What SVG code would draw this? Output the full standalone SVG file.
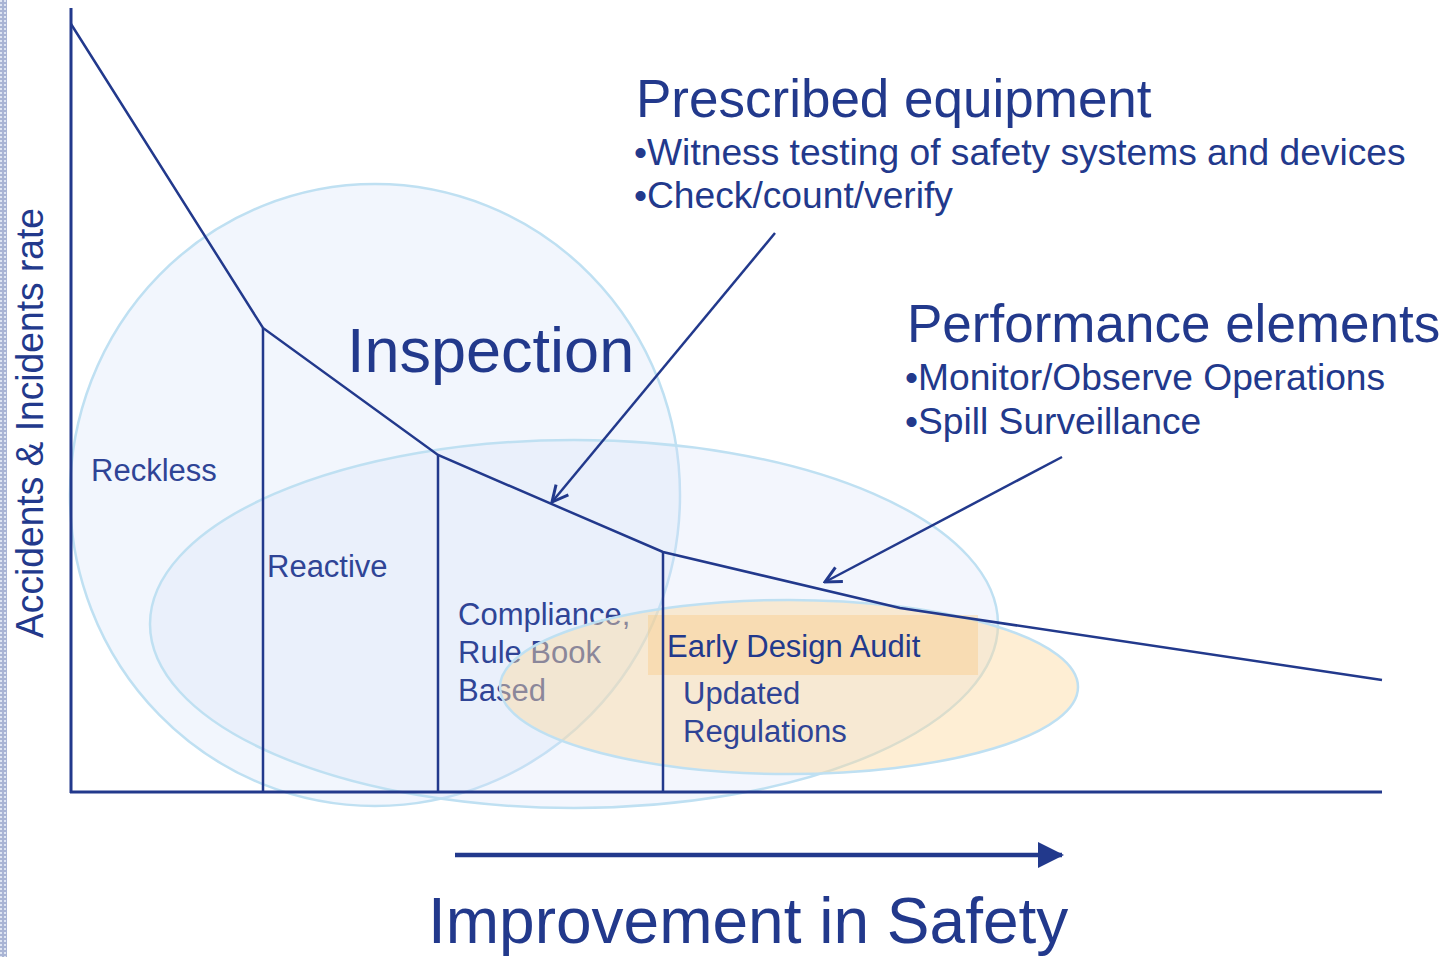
<svg xmlns="http://www.w3.org/2000/svg" width="1452" height="957" viewBox="0 0 1452 957">
<style>
text{font-family:"Liberation Sans",Arial,sans-serif;fill:#22398c}
.lbl{fill:#2f4496}
.ax{stroke:#22398c;stroke-width:3;fill:none}
.ln{stroke:#22398c;stroke-width:2.5;fill:none}
.zone{stroke:#bfe0f2;stroke-width:2.5}
</style>
<defs>
<marker id="open" viewBox="0 0 20 20" refX="18" refY="10" markerWidth="20" markerHeight="20" markerUnits="userSpaceOnUse" orient="auto">
<path d="M2,2 L18,10 L2,18" fill="none" stroke="#22398c" stroke-width="3"/>
</marker>
<marker id="solid" viewBox="0 0 26 26" refX="24" refY="13" markerWidth="26" markerHeight="26" markerUnits="userSpaceOnUse" orient="auto">
<path d="M0,0 L26,13 L0,26 Z" fill="#22398c"/>
</marker>
<pattern id="strip" width="4" height="4" patternUnits="userSpaceOnUse">
<rect width="4" height="4" fill="#a9b4d4"/>
<rect width="2" height="2" fill="#dfe5f2"/>
</pattern>
</defs>
<rect x="0" y="0" width="1452" height="957" fill="#ffffff"/>
<rect x="0" y="0" width="7" height="957" fill="url(#strip)"/>

<g id="zone-inspection">
<ellipse class="zone" cx="375" cy="495" rx="305" ry="311" fill="#dbe6f8" fill-opacity="0.35"/>
</g>
<g id="zone-performance">
<ellipse class="zone" cx="574" cy="624" rx="424" ry="184" fill="#d6e2f7" fill-opacity="0.3"/>
</g>
<g id="label-compliance">
<text class="lbl" x="458" y="625" font-size="31">Compliance,</text>
<text class="lbl" x="458" y="663" font-size="31">Rule Book</text>
<text class="lbl" x="458" y="701" font-size="31">Based</text>
</g>
<g id="zone-design">
<ellipse class="zone" cx="789" cy="687" rx="289" ry="87" fill="#fcd9a0" fill-opacity="0.45"/>
<rect x="648" y="615" width="330" height="60" fill="#f9c679" fill-opacity="0.35"/>
</g>

<g id="axes">
<line class="ax" x1="71" y1="8" x2="71" y2="793"/>
<line class="ax" x1="70" y1="792" x2="1382" y2="792"/>
</g>

<g id="connectors">
<polyline class="ln" points="71,24 263,328 438,455 663,552 900,608 1382,680"/>
<line class="ln" x1="263" y1="328" x2="263" y2="792"/>
<line class="ln" x1="438" y1="455" x2="438" y2="792"/>
<line class="ln" x1="663" y1="552" x2="663" y2="792"/>
<line x1="775" y1="233" x2="552" y2="502" stroke="#22398c" stroke-width="2.5" marker-end="url(#open)"/>
<line x1="1062" y1="457" x2="825" y2="582" stroke="#22398c" stroke-width="2.5" marker-end="url(#open)"/>
<line x1="455" y1="855" x2="1062" y2="855" stroke="#22398c" stroke-width="4.5" marker-end="url(#solid)"/>
</g>

<g id="label-reckless"><text class="lbl" x="91" y="481" font-size="31">Reckless</text></g>
<g id="label-reactive"><text class="lbl" x="267" y="577" font-size="31">Reactive</text></g>
<g id="label-inspection"><text x="347" y="372" font-size="63">Inspection</text></g>
<g id="label-early"><text x="667" y="657" font-size="31">Early Design Audit</text></g>
<g id="label-updated">
<text class="lbl" x="683" y="704" font-size="31">Updated</text>
<text class="lbl" x="683" y="742" font-size="31">Regulations</text>
</g>

<g id="note-prescribed">
<text x="636" y="117" font-size="53">Prescribed equipment</text>
<text x="634" y="165" font-size="37.2">•Witness testing of safety systems and devices</text>
<text x="634" y="208" font-size="37.2">•Check/count/verify</text>
</g>
<g id="note-performance">
<text x="907" y="342" font-size="53">Performance elements</text>
<text x="905" y="390" font-size="37.2">•Monitor/Observe Operations</text>
<text x="905" y="434" font-size="37.2">•Spill Surveillance</text>
</g>

<g id="axis-labels">
<text x="0" y="0" font-size="38" textLength="430" lengthAdjust="spacingAndGlyphs" transform="translate(43,638) rotate(-90)">Accidents &amp; Incidents rate</text>
<text x="428" y="943" font-size="64">Improvement in Safety</text>
</g>
</svg>
